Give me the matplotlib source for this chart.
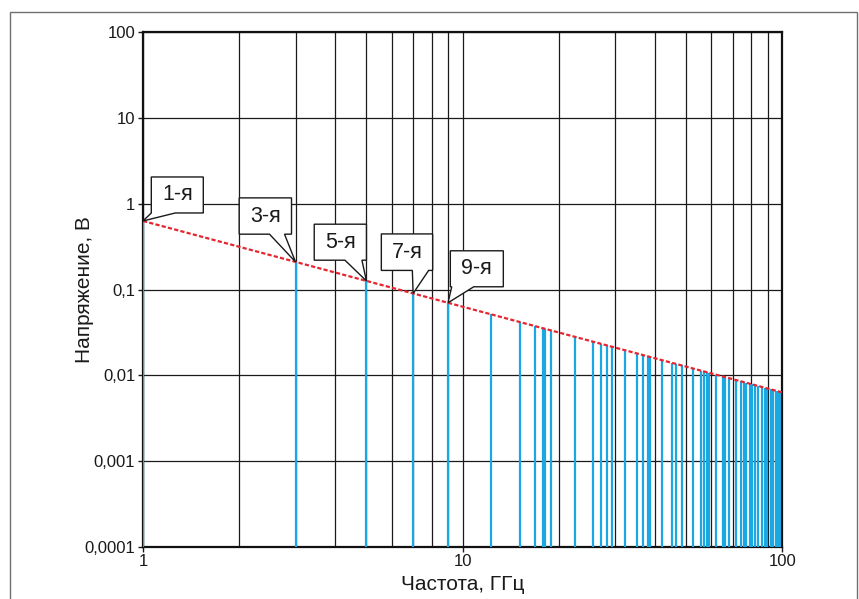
import matplotlib.pyplot as plt
from matplotlib.patches import Polygon, Rectangle
from matplotlib.transforms import IdentityTransform
from matplotlib.ticker import (FixedLocator, FixedFormatter, LogLocator,
                               NullFormatter, NullLocator)

# harmonic frequencies (GHz) and amplitudes (V)
harm_freq = [1, 3, 5, 7, 9,
             12.3, 15.1, 16.8, 17.9, 18.1, 18.9, 22.4, 25.6, 27.1, 28.2,
             29.3, 32.3, 35.2, 36.7, 37.9, 38.5, 42.0, 45.2, 46.6, 48.4,
             52.5, 55.6, 56.8, 58.2, 59.1, 62.2, 65.3, 66.3, 68.1, 71.5,
             74.1, 75.9, 76.9, 79.1, 80.6, 82.0, 83.8, 86.2, 88.1, 89.7,
             92.0, 93.7, 95.4, 96.8, 98.2]
harm_volt = [0.63, 0.21, 0.126, 0.090, 0.070,
             0.0512, 0.0417, 0.0375, 0.0352, 0.0348, 0.0333, 0.0281, 0.0246, 0.0232, 0.0223,
             0.0215, 0.0195, 0.0179, 0.0172, 0.0166, 0.0164, 0.0150, 0.0139, 0.0135, 0.0130,
             0.0120, 0.0113, 0.0111, 0.0108, 0.0107, 0.0101, 0.00965, 0.00950, 0.00925, 0.00881,
             0.00850, 0.00830, 0.00819, 0.00796, 0.00782, 0.00768, 0.00752, 0.00731, 0.00715, 0.00702,
             0.00685, 0.00672, 0.00660, 0.00651, 0.00642]

# envelope (red dashed line)
env_freq = [1, 100]
env_volt = [0.63, 0.0063]

callout_labels = ["1-я", "3-я", "5-я", "7-я", "9-я"]

xtick_vals = [1, 10, 100]
xtick_labels = ["1", "10", "100"]
ytick_vals = [1e-4, 1e-3, 1e-2, 1e-1, 1, 10, 100]
ytick_labels = ["0,0001", "0,001", "0,01", "0,1", "1", "10", "100"]

# callout boxes, pixel offsets from the stem top (x right, y down):
# box left, box right, box top, box bottom, tail left, tail right
callout_shapes = [
    (8.3, 60.3, -44, -8, 8.3, 32.3),
    (-56.3, -4, -64, -27.7, -26, -11),
    (-52.2, 0, -56.7, -20.7, -21.5, -4.5),
    (-31.8, 19.5, -59.5, -23, -0.8, 15.5),
    (2.3, 55.3, -52, -16, 3.7, 25.7),
]

plt.rcParams["font.family"] = ["Liberation Sans", "DejaVu Sans"]

W, H = 859, 599
fig = plt.figure(figsize=(W / 100, H / 100), dpi=100)
ax = fig.add_axes([143 / W, 1 - 546.7 / H, (782.3 - 143) / W, (546.7 - 32.3) / H])
ax.set_xscale("log")
ax.set_yscale("log")
ax.set_xlim(1, 100)
ax.set_ylim(1e-4, 100)

ax.vlines(harm_freq, 1e-4, harm_volt, color="#1aa7e2", lw=1.6, zorder=3)
ax.plot(env_freq, env_volt, color="#e52530", lw=1.6, ls=(0, (1.9, 1.0)), zorder=4)

ax.xaxis.set_major_locator(FixedLocator(xtick_vals))
ax.xaxis.set_major_formatter(FixedFormatter(xtick_labels))
ax.xaxis.set_minor_locator(LogLocator(base=10, subs=range(2, 10)))
ax.xaxis.set_minor_formatter(NullFormatter())
ax.yaxis.set_major_locator(FixedLocator(ytick_vals))
ax.yaxis.set_major_formatter(FixedFormatter(ytick_labels))
ax.yaxis.set_minor_locator(NullLocator())

ax.set_axisbelow(True)
ax.grid(which="both", axis="x", color="#1a1a1a", lw=0.9)
ax.grid(which="major", axis="y", color="#1a1a1a", lw=0.9)
ax.tick_params(which="minor", length=0)
ax.tick_params(which="major", direction="out", length=3.5, width=1,
               labelsize=12, pad=2, color="#1a1a1a", labelcolor="#1a1a1a")
for sp in ax.spines.values():
    sp.set_linewidth(1.6)
    sp.set_color("#111111")

ax.set_xlabel("Частота, ГГц", fontsize=15, labelpad=4, color="#1a1a1a")
ax.set_ylabel("Напряжение, В", fontsize=15, color="#1a1a1a")
ax.yaxis.set_label_coords(-0.077, 0.5)

# callouts
for lab, f, v, shp in zip(callout_labels, harm_freq, harm_volt, callout_shapes):
    px, py = ax.transData.transform((f, v))
    bx0, bx1, btop, bbot, tx0, tx1 = shp
    verts = [(px + bx0, py - btop), (px + bx1, py - btop), (px + bx1, py - bbot),
             (px + tx1, py - bbot), (px, py), (px + tx0, py - bbot),
             (px + bx0, py - bbot)]
    poly = Polygon(verts, closed=True, facecolor="white", edgecolor="#1a1a1a",
                   lw=1.0, transform=IdentityTransform(), zorder=6, clip_on=False)
    ax.add_patch(poly)
    ax.text(px + (bx0 + bx1) / 2, py - (btop + bbot) / 2, lab, fontsize=15.5,
            ha="center", va="center", color="#1a1a1a",
            transform=IdentityTransform(), zorder=7)

# outer frame
frame = Rectangle((10.3 / W, -0.05), (856.7 - 10.3) / W, 1.05 - 12.3 / H,
                  transform=fig.transFigure, fill=False, edgecolor="#707070", lw=1.0)
fig.add_artist(frame)

fig.savefig("out.png", dpi=100)
plt.close(fig)
